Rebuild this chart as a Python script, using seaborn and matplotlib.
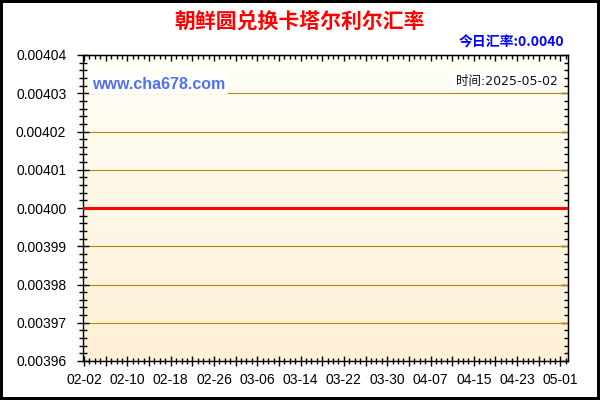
import pandas as pd
import numpy as np
import matplotlib
matplotlib.use('Agg')
import matplotlib.pyplot as plt
import matplotlib.dates as mdates
from matplotlib.colors import LinearSegmentedColormap
from matplotlib.ticker import FixedLocator, FixedFormatter, MultipleLocator, FormatStrFormatter
import seaborn as sns

# --- datos:朝鲜圆 -> 卡塔尔利尔, un valor por día ---
fechas = pd.date_range('2025-02-02', '2025-05-02', freq='D')
tasas = [
    0.0040, 0.0040, 0.0040, 0.0040, 0.0040, 0.0040, 0.0040, 0.0040, 0.0040, 0.0040,
    0.0040, 0.0040, 0.0040, 0.0040, 0.0040, 0.0040, 0.0040, 0.0040, 0.0040, 0.0040,
    0.0040, 0.0040, 0.0040, 0.0040, 0.0040, 0.0040, 0.0040, 0.0040, 0.0040, 0.0040,
    0.0040, 0.0040, 0.0040, 0.0040, 0.0040, 0.0040, 0.0040, 0.0040, 0.0040, 0.0040,
    0.0040, 0.0040, 0.0040, 0.0040, 0.0040, 0.0040, 0.0040, 0.0040, 0.0040, 0.0040,
    0.0040, 0.0040, 0.0040, 0.0040, 0.0040, 0.0040, 0.0040, 0.0040, 0.0040, 0.0040,
    0.0040, 0.0040, 0.0040, 0.0040, 0.0040, 0.0040, 0.0040, 0.0040, 0.0040, 0.0040,
    0.0040, 0.0040, 0.0040, 0.0040, 0.0040, 0.0040, 0.0040, 0.0040, 0.0040, 0.0040,
    0.0040, 0.0040, 0.0040, 0.0040, 0.0040, 0.0040, 0.0040, 0.0040, 0.0040, 0.0040,
]
y_ticks = [0.00396, 0.00397, 0.00398, 0.00399, 0.00400, 0.00401, 0.00402, 0.00403, 0.00404]
x_labels = ['02-02', '02-10', '02-18', '02-26', '03-06', '03-14',
            '03-22', '03-30', '04-07', '04-15', '04-23', '05-01']
titulo = '朝鲜圆兑换卡塔尔利尔汇率'
hoy = '今日汇率:0.0040'
fecha_txt = '时间:2025-05-02'
web = 'www.cha678.com'

df = pd.DataFrame({'fecha': fechas, 'tasa': tasas})

plt.rcParams['font.family'] = ['Liberation Sans', 'Noto Sans CJK SC', 'DejaVu Sans']

fig = plt.figure(figsize=(6, 4), dpi=100)
fig.patch.set_facecolor('white')
fig.patch.set_edgecolor('black')
fig.patch.set_linewidth(3)
ax = fig.add_axes([83 / 600, 39 / 400, 485 / 600, 306 / 400])

# fondo degradado (blanco arriba, crema abajo)
cmap = LinearSegmentedColormap.from_list('fondo', ['#FFFFF7', '#FDF0D5'])
grad = np.linspace(0, 1, 256).reshape(-1, 1)
ax.imshow(grad, cmap=cmap, aspect='auto', extent=[0, 1, 0, 1],
          transform=ax.transAxes, zorder=0)

sns.lineplot(data=df, x='fecha', y='tasa', ax=ax, color='#FF0000',
             linewidth=2.2, zorder=3)

x0 = mdates.date2num(pd.Timestamp('2025-02-02'))
ax.set_xlim(x0 - 0.2, mdates.date2num(pd.Timestamp('2025-05-02')) + 0.4)
ax.set_ylim(y_ticks[0], y_ticks[-1])

# eje x: ticks mayores cada 4 días, etiqueta cada 8, menores diarios
major_pos = [x0 + 4 * i for i in range(2 * len(x_labels) - 1)]
major_lab = [x_labels[i // 2] if i % 2 == 0 else '' for i in range(len(major_pos))]
ax.xaxis.set_major_locator(FixedLocator(major_pos))
ax.xaxis.set_major_formatter(FixedFormatter(major_lab))
ax.xaxis.set_minor_locator(MultipleLocator(1))

ax.yaxis.set_major_locator(FixedLocator(y_ticks))
ax.yaxis.set_major_formatter(FormatStrFormatter('%.5f'))
ax.yaxis.set_minor_locator(MultipleLocator(0.000002))

ax.tick_params(axis='both', which='major', direction='inout', labelsize=10,
               colors='black', width=1)
ax.tick_params(axis='y', which='major', length=9, pad=7.5)
ax.tick_params(axis='y', which='minor', direction='inout', length=6, width=1)
ax.tick_params(axis='x', which='major', length=7, pad=5)
ax.tick_params(axis='x', which='minor', direction='inout', length=4, width=1)

# ticks de arriba y derecha hacia adentro
top = ax.secondary_xaxis('top')
top.xaxis.set_major_locator(FixedLocator(major_pos))
top.xaxis.set_minor_locator(MultipleLocator(1))
top.tick_params(which='major', direction='in', length=4, labeltop=False, width=1)
top.tick_params(which='minor', direction='in', length=3, width=1)
right = ax.secondary_yaxis('right')
right.yaxis.set_major_locator(FixedLocator(y_ticks))
right.yaxis.set_minor_locator(MultipleLocator(0.000002))
right.tick_params(which='major', direction='in', length=5, labelright=False, width=1)
right.tick_params(which='minor', direction='in', length=3, width=1)

ax.grid(axis='y', which='major', color='#B8860B', linewidth=0.8, zorder=1)
ax.grid(axis='x', visible=False)
for s in ax.spines.values():
    s.set_color('black')
    s.set_linewidth(1)
ax.set_xlabel('')
ax.set_ylabel('')

ax.text(0.019, 0.905, web, transform=ax.transAxes, fontsize=11.5, fontweight='bold',
        color='#5070F0', va='center', ha='left', zorder=4,
        bbox=dict(facecolor='white', edgecolor='none', pad=2))
ax.text(0.979, 0.912, fecha_txt, transform=ax.transAxes, fontsize=9, color='#111111',
        va='center', ha='right', zorder=4, family=['DejaVu Sans', 'Noto Sans CJK SC'],
        bbox=dict(facecolor='white', edgecolor='none', pad=1.5))

fig.text(0.5, 0.9475, titulo, ha='center', va='center', fontsize=15,
         fontweight='bold', color='#FF0000', family=['Noto Sans CJK SC', 'DejaVu Sans'])
fig.text(564 / 600, 0.895, hoy, ha='right', va='center', fontsize=10,
         fontweight='bold', color='#0000FF', family=['Noto Sans CJK SC', 'DejaVu Sans'])

fig.savefig('out.png', dpi=100, facecolor='white', edgecolor='black')
